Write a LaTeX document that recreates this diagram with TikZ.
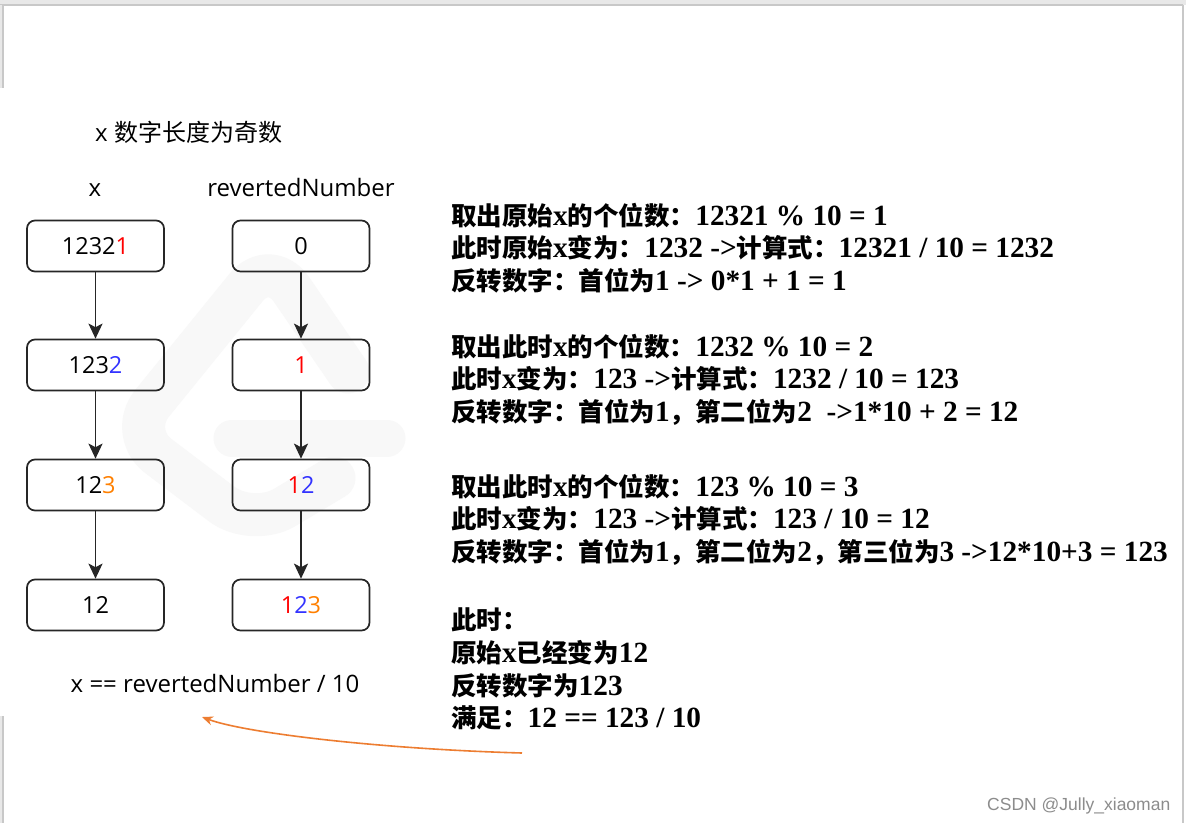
\documentclass[tikz,border=0pt]{standalone}
\usepackage{fontspec}
\setmainfont{Liberation Serif}
\newfontfamily\cjk{Noto Sans CJK SC}
\newfontfamily\osans{Open Sans}
\newfontfamily\lsans{Liberation Sans}
\usetikzlibrary{arrows.meta}
\definecolor{dred}{HTML}{FF0000}
\definecolor{dblue}{HTML}{3333FF}
\definecolor{dorange}{HTML}{FF8000}
\definecolor{arrorange}{HTML}{ED7D31}
\definecolor{framegray}{HTML}{C8C8C8}
\definecolor{bandgray}{HTML}{E8E8E8}
\definecolor{wmgray}{HTML}{F8F8F8}
\newcommand\zh[1]{{\cjk\fontsize{25.5}{30}\selectfont\bfseries #1}}
\begin{document}
\begin{tikzpicture}[x=1pt,y=-1pt,
  valbox/.style={draw=black!85, line width=1.7pt, rounded corners=8pt, minimum width=137pt, minimum height=51pt, inner sep=0pt, font=\osans\fontsize{23.5}{26}\selectfont},
  flow/.style={-{Stealth[length=15pt,width=14pt,inset=3.5pt]}, line width=1.7pt, draw=black!85, fill=black!85},
  rline/.style={anchor=base west, inner sep=0pt, font=\fontsize{29.3}{34}\selectfont\bfseries},
  lbl/.style={inner sep=0pt, font=\osans\fontsize{24}{28}\selectfont}]
\useasboundingbox (0,0) rectangle (1186,823);
\fill[white] (0,0) rectangle (1186,823);
% frame
\fill[bandgray] (0,0) rectangle (1186,5);
\draw[framegray, line width=1.2pt] (0,5) -- (1183,5);
\fill[bandgray] (0,5) rectangle (3,88);
\draw[framegray, line width=1.2pt] (3,5) -- (3,88);
\fill[bandgray] (0,716) rectangle (3,823);
\draw[framegray, line width=1.2pt] (3,716) -- (3,823);
\draw[framegray, line width=1.2pt] (1183,5) -- (1183,823);
% faint watermark logo
\draw[wmgray, line width=43pt, line cap=round, line join=round, rounded corners=38pt] (348,372) -- (270,258) -- (128,433) -- (252,527) -- (334,478);
\draw[wmgray, line width=37pt, line cap=round] (232,438) -- (387,438);
% title and column labels
\node[anchor=base west, inner sep=0pt, font=\osans\fontsize{24}{28}\selectfont] (title) at (95,141) {x {\cjk 数字长度为奇数}};
\node[lbl, anchor=base] (lx) at (95,196) {x};
\node[lbl, anchor=base] (lr) at (301,196) {revertedNumber};
% boxes
\node[valbox] (x1) at (95.5,246) {1232\textcolor{dred}{1}};
\node[valbox] (x2) at (95.5,365) {123\textcolor{dblue}{2}};
\node[valbox] (x3) at (95.5,485) {12\textcolor{dorange}{3}};
\node[valbox] (x4) at (95.5,605) {12};
\node[valbox] (r1) at (301,246) {0};
\node[valbox] (r2) at (301,365) {\textcolor{dred}{1}};
\node[valbox] (r3) at (301,485) {\textcolor{dred}{1}\textcolor{dblue}{2}};
\node[valbox] (r4) at (301,605) {\textcolor{dred}{1}\textcolor{dblue}{2}\textcolor{dorange}{3}};
\draw[flow] (x1) -- (x2);
\draw[flow] (x2) -- (x3);
\draw[flow] (x3) -- (x4);
\draw[flow] (r1) -- (r2);
\draw[flow] (r2) -- (r3);
\draw[flow] (r3) -- (r4);
\node[lbl, anchor=base] (cond) at (215,692) {x == revertedNumber / 10};
% orange arrow
\coordinate (ostart) at (522,753);
\coordinate (oend) at (202,717);
\draw[arrorange, line width=1.6pt, -{Stealth[length=11pt,width=9pt]}] (ostart) .. controls (380,749) and (245,733) .. (oend);
% right text
\node[rline] (t11) at (451,225) {\zh{取出原始}x\zh{的个位数：}12321 \% 10 = 1};
\node[rline] (t12) at (451,257) {\zh{此时原始}x\zh{变为：}1232 ->\zh{计算式：}12321 / 10 = 1232};
\node[rline] (t13) at (451,290) {\zh{反转数字：首位为}1 -> 0*1 + 1 = 1};
\node[rline] (t21) at (451,356) {\zh{取出此时}x\zh{的个位数：}1232 \% 10 = 2};
\node[rline] (t22) at (451,388) {\zh{此时}x\zh{变为：}123 ->\zh{计算式：}1232 / 10 = 123};
\node[rline] (t23) at (451,421) {\zh{反转数字：首位为}1\zh{，第二位为}2\ \ ->1*10 + 2 = 12};
\node[rline] (t31) at (451,496) {\zh{取出此时}x\zh{的个位数：}123 \% 10 = 3};
\node[rline] (t32) at (451,528) {\zh{此时}x\zh{变为：}123 ->\zh{计算式：}123 / 10 = 12};
\node[rline] (t33) at (451,561) {\zh{反转数字：首位为}1\zh{，第二位为}2\zh{，第三位为}3 ->12*10+3 = 123};
\node[rline] (t41) at (451,629) {\zh{此时：}};
\node[rline] (t42) at (451,662) {\zh{原始}x\zh{已经变为}12};
\node[rline] (t43) at (451,695) {\zh{反转数字为}123};
\node[rline] (t44) at (451,727) {\zh{满足：}12 == 123 / 10};
% site watermark
\node[anchor=base west, inner sep=0pt, font=\lsans\fontsize{17.5}{20}\selectfont, text=black!45] (csdn) at (987,810) {CSDN @Jully\_xiaoman};
\end{tikzpicture}
\end{document}
